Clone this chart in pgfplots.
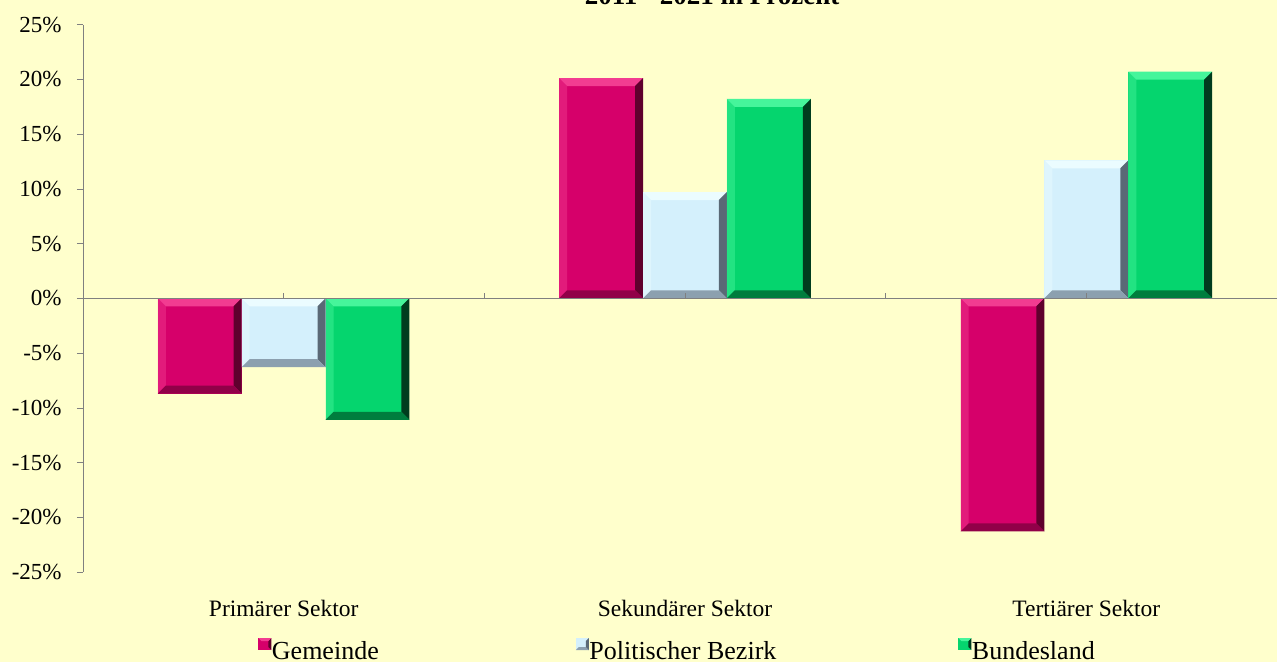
\documentclass[border=0pt]{standalone}
\usepackage{pgfplots}
\pgfplotsset{compat=1.18}
\usepackage{fontspec}
\setmainfont{Liberation Serif}
\definecolor{bg}{RGB}{255,255,204}
\definecolor{gem}{RGB}{214,0,106}
\definecolor{geml}{RGB}{242,60,145}
\definecolor{gemd}{RGB}{95,0,45}
\definecolor{gemb}{RGB}{145,0,72}
\definecolor{bez}{RGB}{212,240,252}
\definecolor{bezl}{RGB}{235,252,255}
\definecolor{bezd}{RGB}{90,105,118}
\definecolor{bezb}{RGB}{140,160,175}
\definecolor{bun}{RGB}{5,213,110}
\definecolor{bunl}{RGB}{70,245,155}
\definecolor{bund}{RGB}{0,60,30}
\definecolor{bunb}{RGB}{0,125,62}
\definecolor{axgray}{RGB}{128,128,128}
\tikzset{
  bevel/.style n args={3}{path picture={
    \begin{scope}[path picture={}]
    \fill[#1, path picture={}] (path picture bounding box.north west) -- (path picture bounding box.north east)
       -- ([xshift=-4pt,yshift=-4pt]path picture bounding box.north east)
       -- ([xshift=4pt,yshift=-4pt]path picture bounding box.north west) -- cycle;
    \fill[#1, opacity=0.45, path picture={}] (path picture bounding box.north west) -- (path picture bounding box.south west)
       -- ([xshift=4pt,yshift=4pt]path picture bounding box.south west)
       -- ([xshift=4pt,yshift=-4pt]path picture bounding box.north west) -- cycle;
    \fill[#2, path picture={}] (path picture bounding box.north east) -- (path picture bounding box.south east)
       -- ([xshift=-4pt,yshift=4pt]path picture bounding box.south east)
       -- ([xshift=-4pt,yshift=-4pt]path picture bounding box.north east) -- cycle;
    \fill[#3, path picture={}] (path picture bounding box.south east) -- (path picture bounding box.south west)
       -- ([xshift=4pt,yshift=4pt]path picture bounding box.south west)
       -- ([xshift=-4pt,yshift=4pt]path picture bounding box.south east) -- cycle;
    \end{scope}
  }},
  gemstyle/.style={ybar, bar width=0.209, bar shift=-0.209, fill=gem, draw=none, bevel={geml}{gemd}{gemb}},
  bezstyle/.style={ybar, bar width=0.209, bar shift=0, fill=bez, draw=none, bevel={bezl}{bezd}{bezb}},
  bunstyle/.style={ybar, bar width=0.209, bar shift=0.209, fill=bun, draw=none, bevel={bunl}{bund}{bunb}},
}
\begin{document}
\begin{tikzpicture}
\useasboundingbox (0,0) rectangle (638.5pt,-331pt);
\clip (0,0) rectangle (638.5pt,-331pt);
\fill[bg] (0,0) rectangle (638.5pt,-331pt);
\node[font=\fontsize{13.5}{16}\selectfont\bfseries, anchor=base, inner sep=0pt] at (356pt,-2.5pt) {2011 - 2021 in Prozent};
\begin{axis}[
  at={(41.5pt,-286pt)}, anchor=south west,
  scale only axis, width=602pt, height=273.75pt,
  xmin=-0.5, xmax=2.5, ymin=-25, ymax=25,
  axis x line=middle, axis y line=left,
  axis line style={-, axgray},
  xtick={0,1,2},
  xticklabels={Primärer Sektor, Sekundärer Sektor, Tertiärer Sektor},
  xtick style={draw=none},
  x tick label style={font=\fontsize{11.75}{14}\selectfont, anchor=base, yshift=-155.9pt},
  ytick={-25,-20,-15,-10,-5,0,5,10,15,20,25},
  yticklabels={-25\%,-20\%,-15\%,-10\%,-5\%,0\%,5\%,10\%,15\%,20\%,25\%},
  ytick style={axgray},
  tick align=outside, major tick length=3pt,
  y tick label style={font=\fontsize{11.5}{13}\selectfont, anchor=east, inner sep=0pt, xshift=-7.5pt},
  legend columns=3,
  legend style={at={(0.1453,-0.1430)}, anchor=west, draw=none, fill=none, inner sep=0pt,
    font=\fontsize{13}{15}\selectfont, nodes={inner sep=0pt},
    /tikz/column 1/.style={column sep=0.3pt},
    /tikz/column 2/.style={column sep=98.5pt},
    /tikz/column 3/.style={column sep=0.3pt},
    /tikz/column 4/.style={column sep=91pt},
    /tikz/column 5/.style={column sep=0.3pt}},
]
% Gemeinde
\addplot[gemstyle,
  legend image code/.code={\fill[gem, path picture={}] (0pt,1pt) rectangle (6.5pt,7pt);
     \fill[gemd, path picture={}] (6.5pt,1pt) -- (6.5pt,7pt) -- (5pt,5.5pt) -- (5pt,2.5pt) -- cycle;
     \fill[geml, path picture={}] (0pt,7pt) -- (6.5pt,7pt) -- (5pt,5.5pt) -- (1.5pt,5.5pt) -- cycle;}]
  coordinates {(0,-8.7)};
\addlegendentry{Gemeinde}
% Politischer Bezirk
\addplot[bezstyle,
  legend image code/.code={\fill[bez, path picture={}] (0pt,1pt) rectangle (6.5pt,7pt);
     \fill[bezd, path picture={}] (6.5pt,1pt) -- (6.5pt,7pt) -- (5pt,5.5pt) -- (5pt,2.5pt) -- cycle;
     \fill[bezb, path picture={}] (0pt,1pt) -- (6.5pt,1pt) -- (5pt,2.5pt) -- (1.5pt,2.5pt) -- cycle;}]
  coordinates {(0,-6.3)};
\addlegendentry{Politischer Bezirk}
% Bundesland
\addplot[bunstyle,
  legend image code/.code={\fill[bun, path picture={}] (0pt,1pt) rectangle (6.5pt,7pt);
     \fill[bund, path picture={}] (6.5pt,1pt) -- (6.5pt,7pt) -- (5pt,5.5pt) -- (5pt,2.5pt) -- cycle;
     \fill[bunl, path picture={}] (0pt,7pt) -- (6.5pt,7pt) -- (5pt,5.5pt) -- (1.5pt,5.5pt) -- cycle;}]
  coordinates {(0,-11.1)};
\addlegendentry{Bundesland}
\addplot[gemstyle, forget plot] coordinates {(1,20.1)};
\addplot[gemstyle, forget plot] coordinates {(2,-21.3)};
\addplot[bezstyle, forget plot] coordinates {(1,9.7)};
\addplot[bezstyle, forget plot] coordinates {(2,12.6)};
\addplot[bunstyle, forget plot] coordinates {(1,18.2)};
\addplot[bunstyle, forget plot] coordinates {(2,20.7)};
\pgfplotsinvokeforeach{0,0.5,1,1.5,2,2.5}{\draw[axgray] (axis cs:#1,0) -- ++(0pt,2.5pt);}
\draw[axgray] (axis cs:-0.5,0) -- (axis cs:2.5,0);
\end{axis}
\end{tikzpicture}
\end{document}
